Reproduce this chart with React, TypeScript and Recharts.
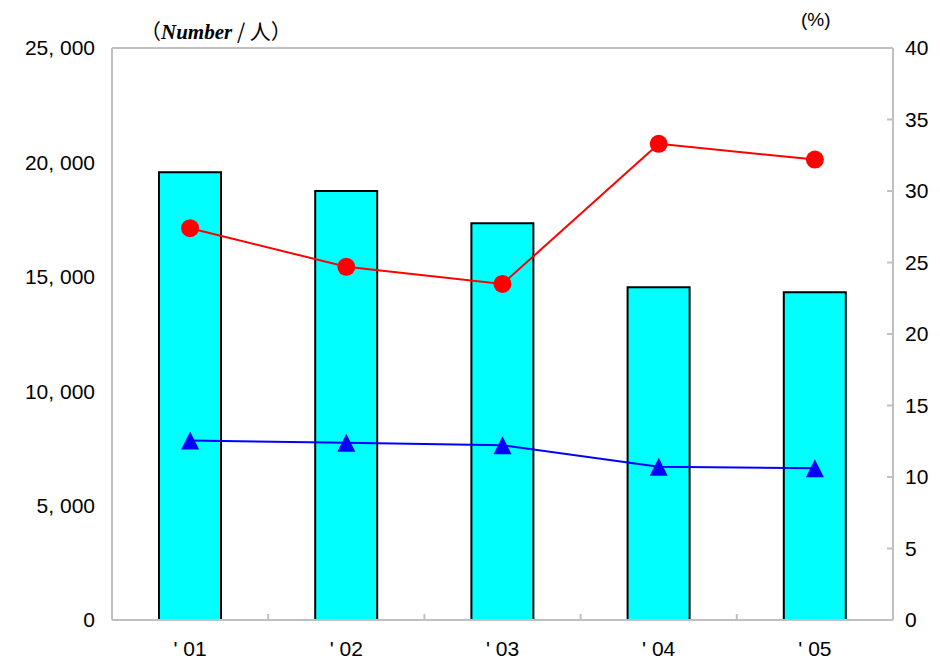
import React from "react";
import {
  ComposedChart,
  Bar,
  Line,
  XAxis,
  YAxis,
  CartesianGrid,
} from "recharts";

const years = ["' 01", "' 02", "' 03", "' 04", "' 05"];
const persons = [19570, 18750, 17340, 14540, 14320];
const blueSeries = [7840, 7750, 7640, 6700, 6630];
const redRate = [27.4, 24.7, 23.5, 33.3, 32.2];

const leftTicks = [0, 5000, 10000, 15000, 20000, 25000];
const rightTicks = [0, 5, 10, 15, 20, 25, 30, 35, 40];

const data = years.map((year, i) => ({
  year,
  persons: persons[i],
  blue: blueSeries[i],
  rate: redRate[i],
}));

const W = 940;
const H = 660;
const LEFT_W = 112;
const RIGHT_W = 47;
const PLOT_W = W - LEFT_W - RIGHT_W;
const GREY = "#c0c0c0";
const FONT = "'Liberation Sans', Arial, sans-serif";

// reference uses a spaced-out comma, e.g. "25, 000"
const fmt = (v: number) => v.toLocaleString("en-US").replace(",", ", ");

const XTick = (props: any) => {
  const { x, y, payload, index } = props;
  const half = PLOT_W / years.length / 2;
  const axisY = H - 40;
  return (
    <g>
      <line x1={x - half} x2={x - half} y1={axisY - 6} y2={axisY} stroke={GREY} strokeWidth={2} />
      {index === years.length - 1 && (
        <line x1={x + half} x2={x + half} y1={axisY - 6} y2={axisY} stroke={GREY} strokeWidth={2} />
      )}
      <text x={x} y={y} dy="0.71em" textAnchor="middle" fill="#000" fontSize={21} fontFamily={FONT}>
        {payload.value}
      </text>
    </g>
  );
};

const RightTick = (props: any) => {
  const { x, y, payload } = props;
  const edge = x - 12;
  return (
    <g>
      <line x1={edge - 6} x2={edge} y1={y} y2={y} stroke={GREY} strokeWidth={2} />
      <text x={x} y={y} dy="0.355em" textAnchor="start" fill="#000" fontSize={21} fontFamily={FONT}>
        {payload.value}
      </text>
    </g>
  );
};

const Triangle = (props: any) => {
  const { cx, cy, index } = props;
  if (cx == null || cy == null) return <g key={index} />;
  return (
    <polygon
      key={index}
      points={`${cx},${cy - 9} ${cx - 9},${cy + 9} ${cx + 9},${cy + 9}`}
      fill="#0000ff"
    />
  );
};

export default function App() {
  return (
    <div style={{ position: "relative", width: W, height: H, fontFamily: FONT }}>
      <style>{"body{margin:0}"}</style>
      <ComposedChart
        width={W}
        height={H}
        data={data}
        margin={{ top: 48, right: 0, left: 0, bottom: 0 }}
      >
        <CartesianGrid vertical={false} stroke={GREY} strokeWidth={2} />
        <XAxis
          dataKey="year"
          height={40}
          axisLine={{ stroke: GREY, strokeWidth: 2 }}
          tickLine={false}
          tickSize={0}
          tickMargin={21}
          tick={<XTick />}
        />
        <YAxis
          yAxisId="left"
          width={LEFT_W}
          domain={[0, 25000]}
          ticks={leftTicks}
          tickFormatter={fmt}
          axisLine={{ stroke: GREY, strokeWidth: 2 }}
          tickLine={false}
          tickSize={0}
          tickMargin={17}
          tick={{ fill: "#000", fontSize: 21, fontFamily: FONT }}
        />
        <YAxis
          yAxisId="right"
          orientation="right"
          width={RIGHT_W}
          domain={[0, 40]}
          ticks={rightTicks}
          axisLine={{ stroke: GREY, strokeWidth: 2 }}
          tickLine={false}
          tickSize={0}
          tickMargin={12}
          tick={<RightTick />}
        />
        <Bar
          yAxisId="left"
          dataKey="persons"
          barSize={62}
          fill="#00ffff"
          stroke="#000"
          strokeWidth={2}
          isAnimationActive={false}
        />
        <Line
          yAxisId="left"
          dataKey="blue"
          stroke="#0000ff"
          strokeWidth={2}
          dot={<Triangle />}
          activeDot={false}
          isAnimationActive={false}
        />
        <Line
          yAxisId="right"
          dataKey="rate"
          stroke="#ff0000"
          strokeWidth={2}
          dot={{ r: 9, fill: "#ff0000", stroke: "none" }}
          activeDot={false}
          isAnimationActive={false}
        />
      </ComposedChart>
      <div
        style={{
          position: "absolute",
          left: 140,
          top: 15,
          fontSize: 21,
          whiteSpace: "nowrap",
          fontFamily: "'Noto Sans CJK JP', sans-serif",
        }}
      >
        （
        <span style={{ fontFamily: "'Liberation Serif', serif", fontStyle: "italic", fontWeight: "bold" }}>
          Number
        </span>
        {" / 人）"}
      </div>
      <div style={{ position: "absolute", left: 801, top: 9, fontSize: 19, whiteSpace: "nowrap" }}>
        (%)
      </div>
    </div>
  );
}
